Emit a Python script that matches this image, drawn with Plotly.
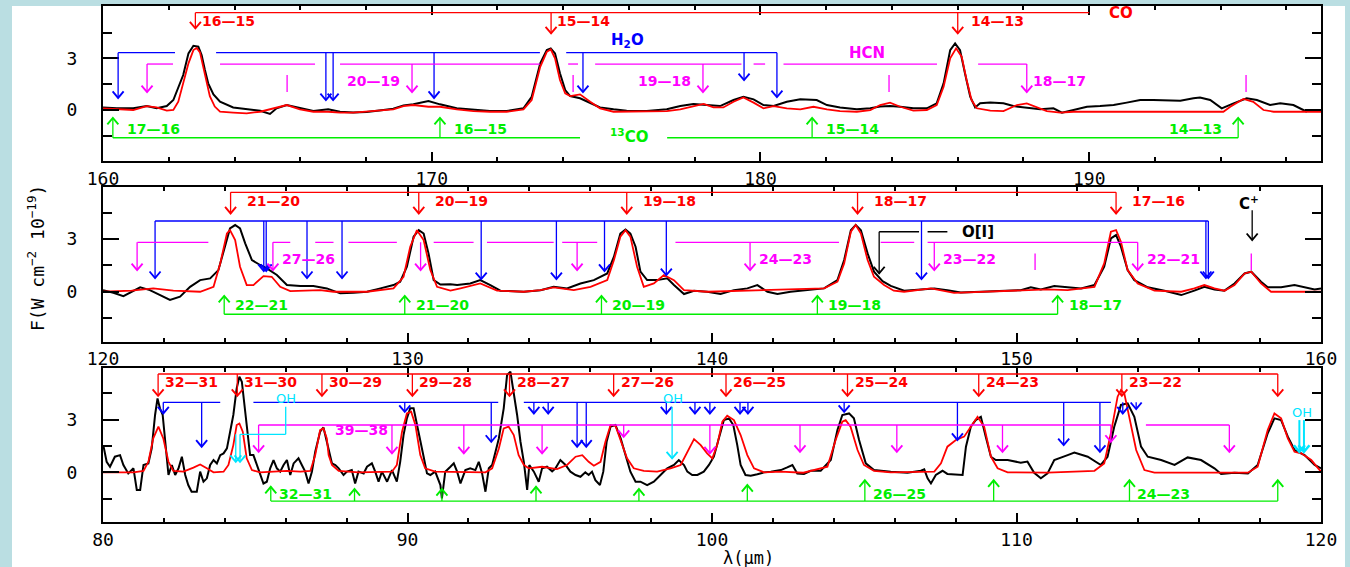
import plotly.graph_objects as go

# ---------------- spectra: observed (black) and model (red), (wavelength um, flux) ----------------
obs1 = [(160.00, 0.15), (160.42, 0.10), (160.92, 0.10), (161.33, 0.23), (161.63, 0.10), (161.94, 0.23),
        (162.14, 0.58), (162.29, 1.26), (162.44, 2.03), (162.60, 3.29), (162.75, 3.73), (162.90, 3.68),
        (163.00, 3.19), (163.10, 2.32), (163.20, 1.55), (163.36, 0.91), (163.56, 0.48), (163.96, 0.15),
        (164.37, 0.04), (164.78, -0.04), (165.08, -0.23), (165.28, 0.10), (165.59, 0.29), (165.99, 0.10),
        (166.40, -0.06), (166.85, 0.04), (167.21, -0.10), (167.61, -0.15), (168.02, -0.12), (168.53, 0.00),
        (168.83, 0.08), (169.14, 0.27), (169.44, 0.33), (169.90, 0.52), (170.25, 0.33), (170.76, 0.10),
        (171.27, 0.00), (171.77, -0.06), (172.28, -0.06), (172.79, 0.10), (173.04, 0.77), (173.30, 2.71),
        (173.50, 3.48), (173.62, 3.58), (173.75, 3.29), (173.90, 2.13), (174.06, 1.16), (174.21, 0.81),
        (174.51, 0.68), (174.82, 0.39), (175.12, 0.15), (175.53, 0.04), (175.93, -0.04), (176.54, -0.06),
        (177.15, 0.04), (177.56, 0.23), (177.96, 0.35), (178.37, 0.29), (178.77, 0.23), (179.18, 0.58),
        (179.48, 0.77), (179.79, 0.62), (180.09, 0.29), (180.40, 0.23), (180.80, 0.48), (181.21, 0.62),
        (181.71, 0.58), (182.02, 0.29), (182.42, 0.15), (182.93, 0.04), (183.34, 0.10), (183.64, 0.21),
        (183.94, 0.23), (184.25, 0.19), (184.65, 0.10), (185.06, 0.10), (185.36, 0.39), (185.57, 1.55),
        (185.77, 3.48), (185.92, 3.87), (186.07, 3.48), (186.22, 2.13), (186.38, 0.77), (186.53, 0.15),
        (186.68, 0.39), (186.99, 0.43), (187.39, 0.39), (187.69, 0.23), (188.10, 0.15), (188.51, 0.04),
        (188.91, 0.10), (189.17, -0.15), (189.52, 0.00), (189.93, 0.19), (190.33, 0.23), (190.74, 0.29),
        (191.14, 0.43), (191.55, 0.58), (191.95, 0.58), (192.36, 0.58), (192.77, 0.54), (193.17, 0.68),
        (193.37, 0.73), (193.68, 0.58), (194.03, 0.10), (194.39, 0.39), (194.79, 0.68), (195.10, 0.58),
        (195.50, 0.29), (195.81, 0.39), (196.21, 0.29), (196.62, -0.10)]

mod1 = [(160.00, 0.10), (160.92, 0.00), (161.33, 0.23), (161.63, 0.15), (161.94, -0.04), (162.14, 0.00),
        (162.29, 0.48), (162.44, 1.55), (162.60, 2.71), (162.75, 3.48), (162.85, 3.60), (162.95, 3.35),
        (163.05, 2.50), (163.15, 1.50), (163.25, 0.80), (163.40, 0.20), (163.56, -0.10), (163.96, -0.15),
        (164.37, -0.19), (164.78, -0.10), (165.08, 0.04), (165.59, 0.29), (165.99, 0.04), (166.40, -0.10),
        (166.85, -0.10), (167.21, -0.15), (167.61, -0.15), (168.02, -0.10), (168.53, -0.04), (168.83, 0.04),
        (169.14, 0.23), (169.44, 0.29), (169.90, 0.19), (170.25, 0.19), (170.76, 0.04), (171.27, -0.06),
        (171.77, -0.10), (172.28, -0.10), (172.79, 0.04), (173.04, 0.58), (173.30, 2.51), (173.50, 3.38),
        (173.62, 3.52), (173.75, 3.00), (173.90, 1.74), (174.06, 0.97), (174.21, 0.81), (174.51, 0.91),
        (174.82, 0.48), (175.12, 0.10), (175.53, -0.10), (175.93, -0.10), (176.54, -0.10), (177.15, -0.06),
        (177.56, 0.04), (177.96, 0.23), (178.27, 0.35), (178.57, 0.15), (178.87, 0.15), (179.18, 0.48),
        (179.48, 0.73), (179.79, 0.43), (180.09, 0.10), (180.40, 0.23), (180.80, 0.10), (181.21, 0.04),
        (181.61, 0.19), (182.02, 0.04), (182.42, -0.06), (182.93, -0.10), (183.34, 0.00), (183.64, 0.29),
        (183.94, 0.43), (184.25, 0.19), (184.65, -0.04), (185.06, 0.00), (185.36, 0.29), (185.57, 1.35),
        (185.77, 3.00), (185.95, 3.58), (186.12, 3.10), (186.27, 1.74), (186.42, 0.58), (186.58, 0.10),
        (186.99, -0.04), (187.39, -0.06), (187.80, 0.29), (188.10, 0.39), (188.40, 0.19), (188.71, -0.06),
        (189.12, -0.15), (189.52, -0.10), (194.08, -0.10), (194.29, 0.19), (194.69, 0.64), (194.99, 0.48),
        (195.30, 0.00), (195.61, -0.10), (197.05, -0.10)]

obs2 = [(120.00, 0.09), (120.34, -0.06), (120.67, -0.25), (120.94, 0.00), (121.22, 0.25), (121.54, 0.09),
        (121.87, -0.19), (122.20, -0.47), (122.53, -0.28), (122.86, 0.28), (123.19, 0.66), (123.52, 0.76),
        (123.79, 1.23), (124.01, 2.56), (124.17, 3.60), (124.34, 3.79), (124.50, 3.60), (124.67, 2.75),
        (124.89, 1.80), (125.16, 1.52), (125.38, 1.33), (125.71, 0.95), (126.04, 0.38), (126.48, 0.32),
        (126.91, 0.32), (127.35, 0.19), (127.79, -0.09), (128.23, -0.06), (128.67, 0.00), (129.11, 0.19),
        (129.54, 0.38), (129.76, 0.57), (129.98, 1.42), (130.20, 3.13), (130.37, 3.50), (130.53, 3.31),
        (130.69, 2.18), (130.86, 0.66), (131.08, 0.41), (131.41, 0.42), (131.63, 0.38), (132.06, 0.47),
        (132.39, 0.66), (132.72, 0.38), (133.05, 0.06), (133.82, 0.00), (134.37, 0.09), (134.80, 0.28),
        (135.24, 0.19), (135.68, 0.47), (136.12, 0.66), (136.56, 1.04), (136.78, 1.99), (136.99, 3.31),
        (137.16, 3.54), (137.32, 3.31), (137.49, 2.56), (137.65, 1.14), (137.87, 0.66), (138.20, 0.66),
        (138.53, 0.76), (138.75, 0.38), (139.08, -0.13), (139.41, 0.06), (139.84, 0.00), (140.28, -0.13),
        (140.72, 0.09), (141.16, 0.19), (141.49, 0.38), (141.82, 0.00), (142.15, -0.13), (142.58, 0.00),
        (143.13, 0.09), (143.68, 0.19), (144.12, 0.66), (144.34, 1.80), (144.56, 3.50), (144.72, 3.79),
        (144.89, 3.50), (145.11, 2.18), (145.32, 1.14), (145.60, 0.60), (145.87, 0.33), (146.31, 0.06),
        (146.86, 0.13), (147.30, 0.19), (147.73, 0.09), (148.17, -0.04), (148.83, 0.00), (149.49, 0.06),
        (150.14, 0.09), (150.47, 0.25), (150.80, 0.13), (151.24, 0.32), (151.68, 0.25), (152.12, 0.19),
        (152.56, 0.38), (152.88, 1.42), (153.10, 3.03), (153.27, 3.22), (153.43, 2.56), (153.65, 1.23),
        (153.87, 0.66), (154.31, 0.25), (154.86, 0.06), (155.41, -0.19), (155.84, 0.06), (156.17, 0.28),
        (156.50, 0.13), (156.83, 0.06), (157.16, 0.47), (157.49, 1.04), (157.71, 1.14), (158.03, 0.57),
        (158.25, 0.25), (158.69, 0.25), (159.13, 0.38), (159.46, 0.25), (159.79, 0.13), (160.00, 0.19)]

mod2 = [(120.00, 0.00), (120.94, 0.06), (121.65, 0.19), (122.31, 0.06), (123.19, 0.00), (123.63, 0.28),
        (123.85, 1.61), (124.07, 3.31), (124.17, 3.50), (124.34, 2.94), (124.50, 1.42), (124.72, 0.38),
        (124.94, 0.38), (125.27, 0.89), (125.54, 0.85), (125.82, 0.28), (126.15, 0.04), (127.13, 0.09),
        (127.57, 0.00), (128.67, 0.00), (129.54, 0.19), (129.87, 0.85), (130.09, 2.56), (130.31, 3.50),
        (130.53, 2.94), (130.75, 1.23), (130.97, 0.28), (131.41, 0.06), (131.74, 0.19), (132.39, 0.47),
        (132.94, 0.06), (133.82, 0.00), (134.37, 0.09), (134.80, 0.25), (135.46, 0.09), (136.01, 0.28),
        (136.56, 0.66), (136.78, 1.80), (136.99, 3.13), (137.16, 3.50), (137.32, 3.13), (137.54, 1.42),
        (137.76, 0.28), (138.09, 0.47), (138.42, 0.95), (138.75, 0.66), (139.08, 0.09), (139.84, 0.00),
        (143.68, 0.19), (144.12, 0.57), (144.34, 1.61), (144.56, 3.41), (144.72, 3.79), (144.89, 3.31),
        (145.11, 1.80), (145.32, 0.85), (145.65, 0.38), (145.97, 0.06), (146.31, 0.00), (147.19, 0.19),
        (147.95, -0.06), (148.83, 0.00), (150.14, 0.06), (151.02, 0.13), (151.68, 0.09), (152.56, 0.28),
        (152.88, 1.61), (153.10, 3.41), (153.27, 3.50), (153.43, 2.84), (153.65, 1.23), (153.98, 0.47),
        (154.53, 0.06), (155.41, 0.00), (155.84, 0.19), (156.17, 0.38), (156.50, 0.19), (156.83, 0.06),
        (157.16, 0.38), (157.49, 1.04), (157.71, 1.14), (158.03, 0.47), (158.36, 0.00), (160.00, 0.00)]

obs3 = [(80.01, 1.55), (80.12, 0.60), (80.23, 0.32), (80.39, 0.89), (80.56, 0.98), (80.67, 0.42),
        (80.83, -0.06), (81.00, 0.23), (81.11, -1.00), (81.22, -1.00), (81.33, 0.42), (81.49, 0.51),
        (81.60, 1.36), (81.71, 3.26), (81.79, 4.20), (81.87, 3.64), (81.96, 3.26), (82.04, 1.93),
        (82.15, -0.15), (82.26, 0.42), (82.37, -0.15), (82.48, 0.23), (82.59, 0.89), (82.70, -0.15),
        (82.80, -0.72), (82.91, -1.10), (83.08, -1.10), (83.19, 0.04), (83.30, -0.53), (83.41, -0.34),
        (83.52, 0.42), (83.63, 0.70), (83.74, 0.51), (83.85, 0.98), (83.96, 1.08), (84.07, 1.36),
        (84.17, 2.31), (84.28, 3.26), (84.39, 4.77), (84.48, 5.44), (84.56, 5.15), (84.64, 3.83),
        (84.72, 2.69), (84.83, 0.98), (84.94, 0.98), (85.05, 0.42), (85.16, -0.06), (85.27, -0.63),
        (85.38, -0.53), (85.49, 0.23), (85.60, 0.70), (85.71, 0.23), (85.82, 0.04), (85.93, 0.42),
        (86.04, 0.70), (86.15, -0.15), (86.26, 0.51), (86.42, 0.80), (86.53, 0.42), (86.64, 0.04),
        (86.75, -0.63), (86.86, 0.04), (86.97, 1.17), (87.13, 2.31), (87.24, 2.55), (87.35, 1.74),
        (87.41, 1.17), (87.52, 0.51), (87.63, 0.42), (87.74, 0.23), (87.90, -0.15), (88.01, 0.04),
        (88.17, 0.13), (88.28, -0.63), (88.39, 0.04), (88.56, -0.06), (88.67, 0.32), (88.83, 0.51),
        (88.94, 0.04), (89.05, -0.53), (89.16, 0.04), (89.33, -0.53), (89.49, 0.13), (89.65, -0.53),
        (89.76, 0.60), (89.87, 2.12), (89.98, 3.07), (90.09, 3.64), (90.20, 3.64), (90.31, 2.78),
        (90.42, 1.93), (90.53, 0.89), (90.64, -0.06), (90.75, -0.15), (90.91, 0.04), (91.08, -0.72),
        (91.13, -1.48), (91.24, 0.04), (91.41, 0.32), (91.52, 0.51), (91.63, 0.04), (91.74, -0.63),
        (91.90, 0.13), (92.06, 0.23), (92.23, 0.13), (92.34, 0.60), (92.45, -0.06), (92.56, -1.10),
        (92.67, 0.23), (92.78, 0.42), (92.89, 1.17), (93.00, 1.93), (93.16, 3.64), (93.27, 5.53),
        (93.38, 5.72), (93.49, 4.58), (93.60, 3.26), (93.71, 1.74), (93.82, 0.60), (93.93, -1.00),
        (94.00, 0.42), (94.15, 0.04), (94.31, -0.53), (94.42, 0.23), (94.58, 0.32), (94.75, 0.06),
        (94.86, 0.23), (95.02, 0.70), (95.19, 0.42), (95.35, 0.04), (95.52, -0.15), (95.68, -0.25),
        (95.84, 0.00), (95.95, -0.15), (96.06, 0.04), (96.17, -0.44), (96.32, -0.72), (96.43, 0.04),
        (96.54, 1.74), (96.67, 2.60), (96.83, 2.69), (97.00, 1.93), (97.16, 0.98), (97.32, 0.04),
        (97.49, -0.53), (97.65, -0.53), (97.87, -0.72), (98.09, -0.53), (98.31, -0.15), (98.53, 0.23),
        (98.75, 0.42), (98.91, 0.70), (99.08, 0.42), (99.19, 0.04), (99.35, -0.15), (99.52, -0.15),
        (99.73, 0.04), (99.90, 0.42), (100.06, 0.89), (100.23, 1.93), (100.39, 2.97), (100.56, 3.07),
        (100.70, 2.69), (100.83, 1.55), (100.94, 0.42), (101.10, -0.15), (101.27, -0.19), (101.49, -0.11),
        (101.71, 0.00), (101.93, 0.04), (102.26, 0.13), (102.47, 0.28), (102.64, 0.42), (102.80, -0.06),
        (103.02, -0.09), (103.24, 0.09), (103.57, 0.09), (103.90, 0.70), (104.12, 2.41), (104.28, 3.26),
        (104.50, 3.35), (104.66, 3.07), (104.83, 1.84), (105.05, 0.51), (105.32, 0.13), (105.87, 0.04),
        (106.42, -0.02), (106.86, 0.09), (106.97, 0.17), (107.08, -0.34), (107.19, -0.63), (107.35, -0.15),
        (107.57, 0.09), (107.73, -0.09), (108.06, -0.15), (108.23, -0.15), (108.34, 1.46), (108.50, 2.59),
        (108.66, 2.97), (108.83, 3.16), (108.99, 2.03), (109.16, 0.89), (109.32, 0.70), (109.71, 0.70),
        (110.14, 0.55), (110.36, 0.61), (110.58, -0.02), (110.80, -0.34), (111.02, -0.06), (111.24, 0.70),
        (111.68, 0.98), (111.90, 1.12), (112.34, 0.89), (112.77, 0.42), (112.99, 0.89), (113.21, 2.59),
        (113.43, 3.83), (113.65, 3.92), (113.87, 3.16), (114.09, 1.46), (114.31, 0.89), (114.75, 0.70),
        (115.19, 0.42), (115.62, 0.85), (116.06, 0.70), (116.50, 0.23), (116.72, -0.09), (117.16, -0.02),
        (117.60, -0.06), (117.92, 0.42), (118.25, 2.22), (118.47, 3.07), (118.69, 2.97), (118.91, 2.03),
        (119.13, 1.27), (119.46, 0.98), (119.79, 0.42), (120.00, 0.23)]

mod3 = [(80.00, 0.00), (81.00, 0.00), (81.33, 0.08), (81.49, 0.60), (81.65, 1.93), (81.82, 2.60),
        (81.98, 1.93), (82.15, 0.60), (82.31, 0.08), (82.64, 0.04), (82.97, 0.27), (83.19, 0.45),
        (83.41, 0.23), (83.63, 0.00), (83.96, 0.04), (84.12, 0.42), (84.28, 1.55), (84.39, 2.69),
        (84.48, 2.78), (84.59, 2.31), (84.72, 0.80), (84.89, 0.13), (85.16, 0.00), (85.60, 0.04),
        (86.04, 0.08), (86.48, 0.04), (86.81, 0.08), (86.97, 0.98), (87.13, 2.40), (87.24, 2.50),
        (87.35, 1.93), (87.41, 0.98), (87.52, 0.42), (87.74, 0.08), (88.39, 0.00), (89.49, 0.04),
        (89.65, 0.42), (89.82, 2.31), (89.98, 3.35), (90.12, 3.45), (90.26, 2.69), (90.42, 0.98),
        (90.58, 0.23), (90.91, 0.04), (91.68, 0.04), (92.56, 0.00), (92.78, 0.23), (93.00, 1.36),
        (93.16, 2.50), (93.32, 2.60), (93.49, 2.12), (93.65, 0.98), (93.82, 0.42), (93.98, 0.23),
        (94.42, 0.32), (94.69, 0.23), (94.91, 0.19), (95.24, 0.42), (95.52, 0.89), (95.74, 0.98),
        (95.95, 0.60), (96.12, 0.38), (96.34, 0.60), (96.50, 1.74), (96.67, 2.69), (96.83, 2.65),
        (97.00, 1.84), (97.21, 0.80), (97.43, 0.23), (97.76, 0.08), (98.20, 0.04), (98.64, 0.23),
        (98.97, 0.42), (99.19, 1.17), (99.41, 1.89), (99.63, 1.55), (99.84, 1.08), (100.01, 0.80),
        (100.17, 1.55), (100.34, 2.88), (100.50, 3.22), (100.72, 2.97), (100.94, 2.12), (101.16, 0.98),
        (101.38, 0.23), (101.71, 0.00), (102.26, 0.04), (103.00, -0.02), (103.79, 0.32), (104.06, 1.84),
        (104.28, 2.88), (104.39, 2.97), (104.55, 2.59), (104.78, 1.27), (104.99, 0.42), (105.32, 0.09),
        (105.87, 0.00), (107.30, 0.04), (107.52, 0.51), (107.73, 1.46), (108.01, 1.84), (108.28, 2.03),
        (108.50, 2.59), (108.72, 3.16), (108.94, 2.59), (109.16, 0.89), (109.38, 0.23), (109.71, 0.00),
        (111.02, -0.02), (112.56, 0.09), (112.88, 0.51), (113.10, 2.22), (113.32, 4.30), (113.43, 4.68),
        (113.54, 4.49), (113.71, 3.16), (113.93, 1.27), (114.20, 0.13), (114.53, -0.02), (117.60, -0.02),
        (117.92, 0.32), (118.25, 2.41), (118.47, 3.35), (118.69, 3.07), (118.91, 1.93), (119.13, 1.17),
        (119.35, 1.08), (119.68, 0.70), (120.00, 0.04)]

# ---------------- line identifications (wavelengths in um) ----------------
# 12CO rotational ladder
co1_wl = [162.81, 173.63, 186.00]
co1_lab = ["16—15", "15—14", "14—13"]
co2_wl = [124.19, 130.37, 137.20, 144.78, 153.27]
co2_lab = ["21—20", "20—19", "19—18", "18—17", "17—16"]
co3_wl = [81.81, 84.41, 87.19, 90.16, 93.35, 96.77, 100.46, 104.45, 108.76, 113.46, 118.58]
co3_lab = ["32—31", "31—30", "30—29", "29—28", "28—27", "27—26", "26—25", "25—24", "24—23", "23—22", ""]

# 13CO ladder
c13_1_wl = [160.30, 170.25, 181.57, 194.53]
c13_1_lab = ["17—16", "16—15", "15—14", "14—13"]
c13_2_wl = [123.98, 129.91, 136.37, 143.46, 151.35]
c13_2_lab = ["22—21", "21—20", "20—19", "19—18", "18—17"]
c13_3_wl = [85.51, 88.26, 91.13, 94.22, 97.60, 101.16, 105.02, 109.25, 113.71, 118.58]
c13_3_lab = ["32—31", "", "", "", "", "", "26—25", "", "24—23", ""]

# H2O lines
h2o1_wl = [160.46, 166.78, 167.00, 170.07, 174.60, 179.50, 180.50]
h2o2_wl = [121.71, 125.28, 125.36, 126.70, 127.85, 132.42, 134.89, 136.47, 138.50, 146.88, 156.22, 156.30]
h2o3_wl = [81.98, 83.24, 89.91, 92.75, 94.15, 94.62, 95.57, 95.87, 98.50, 99.44, 99.93, 100.92,
           101.18, 104.34, 108.06, 111.55, 112.74, 113.49, 113.93]

# HCN lines (ground state with J labels, and vibrationally excited ones)
hcn1_wl = [161.34, 169.40, 178.25, 188.10]
hcn1_lab = ["", "20—19", "19—18", "18—17"]
hcn1_vib = [165.60, 174.30, 183.91, 194.77]
hcn2_wl = [121.12, 125.58, 130.43, 135.57, 141.25, 147.30, 153.98]
hcn2_lab = ["", "27—26", "", "", "24—23", "23—22", "22—21"]
hcn2_vib = [150.61, 157.71]
hcn3_wl = [85.11, 89.49, 91.85, 94.42, 97.10, 99.93, 102.89, 106.07, 109.54, 113.10, 116.99]
hcn3_lab = ["", "39—38", "", "", "", "", "", "", "", "", ""]

# OH, [OI] and [CII]
oh_a_wl = [84.36, 84.50]
oh_b_wl = [98.69]
oh_c_wl = [119.29, 119.44]
oi_wl = 145.49
cii_wl = 157.74

# ---------------- layout geometry ----------------
W, H = 1350, 567
XDOM = [103 / W, 1321 / W]
YDOMS = [[1 - 161 / H, 1 - 6 / H], [1 - 341.7 / H, 1 - 186.7 / H], [1 - 522 / H, 1 - 368 / H]]
XRANGES = [[160, 197.05], [120, 160], [80, 120]]
YRANGES = [[-2.96, 6.04], [-2.84, 5.97], [-2.82, 5.93]]
XTICKS = [[160, 170, 180, 190], [120, 130, 140, 150, 160], [80, 90, 100, 110, 120]]
PXU_X = [32.87, 30.42, 30.42]      # pixels per micron in each panel
PXU_Y = [17.23, 17.6, 17.6]        # pixels per flux unit in each panel
XR = ["x", "x2", "x3"]
YR = ["y", "y2", "y3"]

RED, BLUE, MAG, GREEN, CYAN, BLACK = "#ff0000", "#0000ff", "#ff00ff", "#00ee00", "#00e5ff", "#000000"
LFONT = "DejaVu Sans"
TFONT = "DejaVu Sans Mono"
LSIZE = 14

shapes, annos = [], []


def hseg(p, x0, x1, y, color, w=1.3):
    shapes.append(dict(type="line", xref=XR[p], yref=YR[p], x0=x0, x1=x1, y0=y, y1=y,
                       line=dict(color=color, width=w)))


def vseg(p, x, y0, y1, color, w=1.3):
    shapes.append(dict(type="line", xref=XR[p], yref=YR[p], x0=x, x1=x, y0=y0, y1=y1,
                       line=dict(color=color, width=w)))


def arrow(p, x, y0, y1, color, w=1.3):
    """Shaft from y0 to y1 with an open V head at y1."""
    vseg(p, x, y0, y1, color, w)
    dx = 5.5 / PXU_X[p]
    dy = (6.5 / PXU_Y[p]) * (1 if y1 < y0 else -1)
    path = f"M {x - dx},{y1 + dy} L {x},{y1} L {x + dx},{y1 + dy}"
    shapes.append(dict(type="path", xref=XR[p], yref=YR[p], path=path,
                       line=dict(color=color, width=w + 0.6)))


def label(p, x, y, s, color, anchor="left", shift=0, size=LSIZE, bold=True):
    annos.append(dict(xref=XR[p], yref=YR[p], x=x, y=y, text=(f"<b>{s}</b>" if bold else s),
                      showarrow=False, xanchor=anchor, yanchor="middle", xshift=shift,
                      font=dict(family=LFONT, size=size, color=color)))


def ladder(p, wls, labs, level, tip, lab_y, color, shift):
    for wl, lab in zip(wls, labs):
        arrow(p, wl, level, tip, color)
        if lab:
            label(p, wl, lab_y, lab, color, "left", shift)


# ---- panel 1 : 160-197 um ----
hseg(0, co1_wl[0], 190.0, 5.65, RED)
for wl, tip in zip(co1_wl, [4.74, 4.45, 4.45]):
    arrow(0, wl, 5.65, tip, RED)
for wl, lab, sh in zip(co1_wl, co1_lab, [5, 4, 11]):
    label(0, wl, 5.17, lab, RED, "left", sh)
label(0, 190.98, 5.66, "CO", RED, "center", size=15)

for a, b in [(160.46, 162.19), (163.44, 173.29), (174.09, 180.50)]:
    hseg(0, a, b, 3.33, BLUE)
for wl, tip in zip(h2o1_wl, [0.70, 0.58, 0.58, 0.70, 1.04, 1.74, 0.75]):
    arrow(0, wl, 3.33, tip, BLUE)
label(0, 175.94, 4.06, "H<sub>2</sub>O", BLUE, "center", size=15)

for a, b in [(161.34, 162.13), (163.56, 166.45), (167.21, 173.29), (174.15, 174.45), (174.97, 179.42),
             (179.79, 180.14), (180.70, 185.37), (186.62, 188.10)]:
    hseg(0, a, b, 2.67, MAG)
for wl in hcn1_wl:
    arrow(0, wl, 2.67, 1.04, MAG)
for wl, lab, side in zip(hcn1_wl, hcn1_lab, [None, "right", "right", "left"]):
    if lab:
        label(0, wl, 1.68, lab, MAG, side, -10 if side == "right" else 4)
for wl in hcn1_vib:
    vseg(0, wl, 2.03, 1.04, MAG)
label(0, 183.24, 3.31, "HCN", MAG, "center", size=15)

for a, b in [(160.30, 174.51), (177.16, 194.53)]:
    hseg(0, a, b, -1.61, GREEN)
for wl in c13_1_wl:
    arrow(0, wl, -1.61, -0.46, GREEN)
for wl, lab, side in zip(c13_1_wl, c13_1_lab, ["left", "left", "left", "right"]):
    label(0, wl, -1.10, lab, GREEN, side, 12 if side == "left" else -14)
label(0, 176.0, -1.51, "<sup>13</sup>CO", GREEN, "center", size=15)

# ---- panel 2 : 120-160 um ----
hseg(1, co2_wl[0], co2_wl[-1], 5.65, RED)
ladder(1, co2_wl, co2_lab, 5.65, 4.45, 5.15, RED, 14)

hseg(1, h2o2_wl[0], h2o2_wl[-1], 4.02, BLUE)
for wl, tip in zip(h2o2_wl, [0.78, 1.18, 1.18, 0.78, 0.78, 0.72, 0.72, 1.18, 0.95, 0.72, 0.78, 0.78]):
    arrow(1, wl, 4.02, tip, BLUE)

for a, b in [(121.13, 123.46), (125.58, 126.15), (126.97, 127.57), (128.06, 129.65), (130.86, 132.17),
             (132.61, 134.80), (135.08, 136.23), (138.80, 144.17), (145.54, 146.64), (147.08, 153.98)]:
    hseg(1, a, b, 2.81, MAG)
ladder(1, hcn2_wl, hcn2_lab, 2.81, 1.23, 1.86, MAG, 7)
for wl in hcn2_vib:
    vseg(1, wl, 2.18, 1.23, MAG)

hseg(1, oi_wl, 146.80, 3.41, BLACK)
hseg(1, 147.08, 147.73, 3.41, BLACK)
arrow(1, oi_wl, 3.41, 1.05, BLACK)
label(1, 148.72, 3.41, "O[I]", BLACK, "center", size=15)

label(1, cii_wl, 5.03, "C<sup>+</sup>", BLACK, "center", -3, size=15)
arrow(1, cii_wl, 4.63, 2.94, BLACK)

hseg(1, c13_2_wl[0], c13_2_wl[-1], -1.28, GREEN)
ladder(1, c13_2_wl, c13_2_lab, -1.28, -0.24, -0.76, GREEN, 9)

# ---- panel 3 : 80-120 um ----
hseg(2, co3_wl[0], co3_wl[-1], 5.59, RED)
ladder(2, co3_wl, co3_lab, 5.59, 4.35, 5.14, RED, 5)

for a, b in [(81.98, 83.85), (84.94, 92.98), (93.82, 113.10)]:
    hseg(2, a, b, 3.98, BLUE)
h2o3_tip = [3.35, 1.46, 3.44, 1.74, 3.35, 3.35, 1.46, 1.46, 3.35, 3.35, 3.35, 3.35, 3.35, 3.44,
            1.84, 1.55, 1.17, 3.35, 3.60]
for wl, tip in zip(h2o3_wl, h2o3_tip):
    arrow(2, wl, 3.98, tip, BLUE)

for a, b in [(85.11, 113.10), (114.25, 116.99)]:
    hseg(2, a, b, 2.69, MAG)
for wl, tip in zip(hcn3_wl, [1.17, 1.08, 1.08, 1.08, 2.02, 1.08, 1.17, 1.17, 1.17, 1.74, 1.17]):
    arrow(2, wl, 2.69, tip, MAG)
for wl, lab in zip(hcn3_wl, hcn3_lab):
    if lab:
        label(2, wl, 2.42, lab, MAG, "right", -2)

# OH groups
label(2, 86.02, 4.22, "OH", CYAN, "center", size=13, bold=False)
vseg(2, 86.0, 3.73, 2.16, CYAN)
hseg(2, oh_a_wl[-1], 86.0, 2.16, CYAN)
for wl in oh_a_wl:
    arrow(2, wl, 2.16, 0.60, CYAN)
label(2, 98.72, 4.22, "OH", CYAN, "center", size=13, bold=False)
for wl in oh_b_wl:
    arrow(2, wl, 3.73, 0.80, CYAN)
label(2, 119.38, 3.40, "OH", CYAN, "center", size=13, bold=False)
for wl in oh_c_wl:
    arrow(2, wl, 2.97, 1.17, CYAN, 2)

hseg(2, c13_3_wl[0], c13_3_wl[-1], -1.63, GREEN)
for wl, tip in zip(c13_3_wl, [-0.82, -0.95, -0.95, -0.82, -0.95, -0.72, -0.45, -0.45, -0.45, -0.45]):
    arrow(2, wl, -1.63, tip, GREEN)
for wl, lab in zip(c13_3_wl, c13_3_lab):
    if lab:
        label(2, wl, -1.24, lab, GREEN, "left", 6)

# ---------------- figure ----------------
fig = go.Figure()
for p, (obs, mod) in enumerate([(obs1, mod1), (obs2, mod2), (obs3, mod3)]):
    fig.add_trace(go.Scatter(x=[a for a, _ in obs], y=[b for _, b in obs], mode="lines",
                             line=dict(color=BLACK, width=2), xaxis=XR[p], yaxis=YR[p],
                             showlegend=False, hoverinfo="skip"))
    fig.add_trace(go.Scatter(x=[a for a, _ in mod], y=[b for _, b in mod], mode="lines",
                             line=dict(color=RED, width=1.8), xaxis=XR[p], yaxis=YR[p],
                             showlegend=False, hoverinfo="skip"))

axis_common = dict(showline=True, linecolor=BLACK, linewidth=2, mirror="allticks", ticks="inside",
                   tickcolor=BLACK, tickwidth=1.5, showgrid=False, zeroline=False, automargin=False,
                   tickfont=dict(family=TFONT, size=18, color=BLACK))
layout = dict(width=W, height=H, autosize=False,
              margin=dict(l=0, r=0, t=0, b=0, pad=0, autoexpand=False),
              paper_bgcolor="#badee2", plot_bgcolor="white", showlegend=False)
for p in range(3):
    sx = "" if p == 0 else str(p + 1)
    layout["xaxis" + sx] = dict(axis_common, domain=XDOM, range=XRANGES[p], anchor=YR[p],
                                tickmode="array", tickvals=XTICKS[p], ticklen=9,
                                ticklabelstandoff=0,
                                minor=dict(dtick=2, tick0=0, ticklen=4, ticks="inside",
                                           tickcolor=BLACK, tickwidth=1.5, showgrid=False))
    layout["yaxis" + sx] = dict(axis_common, domain=YDOMS[p], range=YRANGES[p], anchor=XR[p],
                                tickmode="array", tickvals=[0, 3], ticklen=16,
                                ticklabelstandoff=20,
                                minor=dict(tickmode="array", tickvals=[-1.5, 1.5, 4.5], ticklen=9,
                                           ticks="inside", tickcolor=BLACK, tickwidth=1.5,
                                           showgrid=False))

# white page behind the panels
shapes.insert(0, dict(type="rect", xref="paper", yref="paper", x0=12 / W, x1=1345 / W, y0=0,
                      y1=1 - 6 / H, fillcolor="white", line=dict(width=0), layer="below"))

annos.append(dict(xref="paper", yref="paper", x=36 / W, y=1 - 258 / H, xanchor="center",
                  yanchor="middle", textangle=-90,
                  text="F(W cm<sup>−2</sup> 10<sup>−19</sup>)", showarrow=False,
                  font=dict(family=TFONT, size=18, color=BLACK)))
annos.append(dict(xref="paper", yref="paper", x=749 / W, y=0.0, xanchor="center", yanchor="bottom",
                  yshift=-3, text="λ(μm)", showarrow=False,
                  font=dict(family=TFONT, size=17, color=BLACK)))

layout["shapes"] = shapes
layout["annotations"] = annos
fig.update_layout(**layout)
fig.write_html("out.html", config=dict(responsive=False))
